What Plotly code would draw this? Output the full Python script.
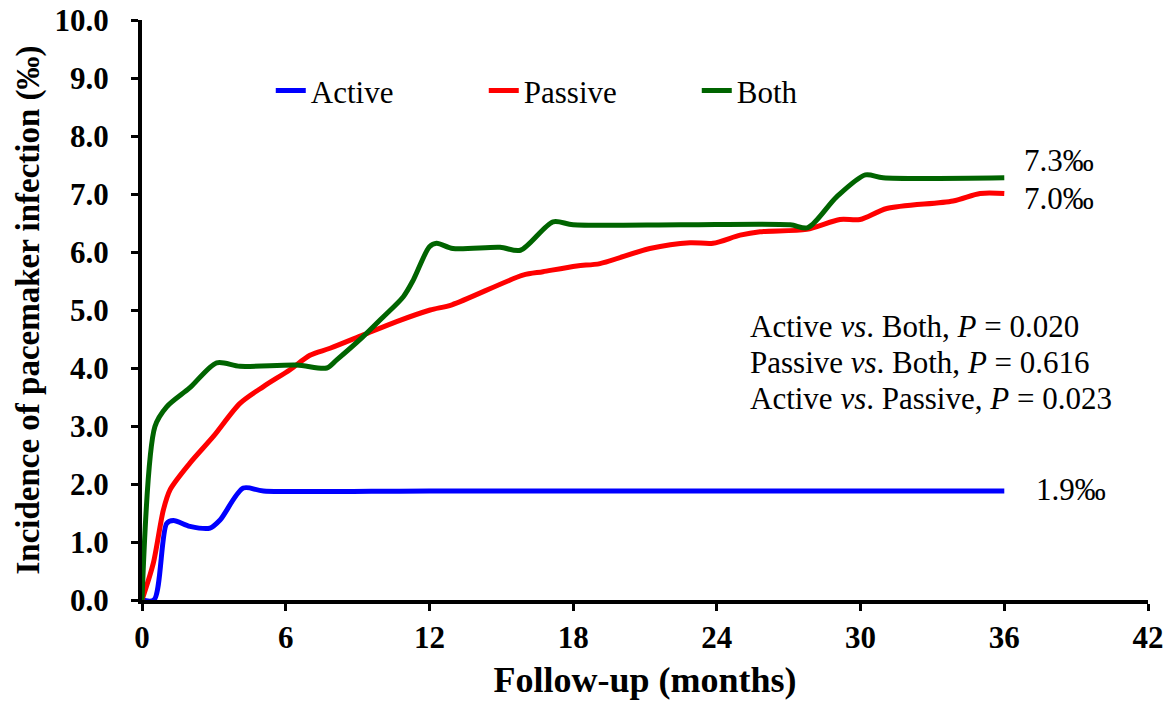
import plotly.graph_objects as go

# Follow-up months and cumulative incidence (‰)
active_x = [0, 0.5, 1.03, 1.31, 2.0, 2.84, 3.26, 4.23, 5.07, 12, 24, 36]
active_y = [0, 0, 1.32, 1.37, 1.27, 1.24, 1.38, 1.93, 1.88, 1.88, 1.88, 1.88]

passive_x = [0, 0.47, 0.89, 1.17, 2.0, 2.98, 4.09, 5.07, 6.18, 7.01, 7.85, 9.24,
             10.63, 12.03, 12.94, 15.9, 16.74, 18.15, 19.12, 21.2, 22.88, 23.84,
             24.97, 25.8, 27.75, 29.14, 29.98, 31.09, 33.86, 34.99, 36]
passive_y = [0, 0.63, 1.55, 1.9, 2.36, 2.82, 3.39, 3.68, 3.97, 4.22, 4.34, 4.57,
             4.8, 5.0, 5.09, 5.6, 5.66, 5.76, 5.8, 6.06, 6.16, 6.15,
             6.29, 6.35, 6.39, 6.56, 6.56, 6.75, 6.88, 7.01, 7.01]

both_x = [0, 0.54, 1.03, 2.0, 3.12, 4.09, 6.46, 7.71, 8.13, 9.23, 10.07, 10.91,
          11.33, 12.0, 12.3, 12.98, 14.95, 15.8, 17.16, 18.0, 22.5, 27.06, 27.8, 29.0,
          30.2, 30.94, 36]
both_y = [0, 2.99, 3.33, 3.66, 4.09, 4.03, 4.05, 4.0, 4.14, 4.54, 4.88, 5.23,
          5.52, 6.09, 6.15, 6.06, 6.08, 6.03, 6.52, 6.47, 6.47, 6.47, 6.42, 6.95,
          7.33, 7.28, 7.28]

series_names = ["Active", "Passive", "Both"]
series_colors = ["#0000FF", "#FF0000", "#006400"]
end_labels = ["1.9‰", "7.0‰", "7.3‰"]
p_text = ["Active <i>vs</i>. Both, <i>P</i> = 0.020",
          "Passive <i>vs</i>. Both, <i>P</i> = 0.616",
          "Active <i>vs</i>. Passive, <i>P</i> = 0.023"]
p_text_y = [4.72, 4.1, 3.47]

x_ticks = [0, 6, 12, 18, 24, 30, 36, 42]

SERIF = "Liberation Serif, Times New Roman, serif"

fig = go.Figure()
for name, xs, ys, col in zip(series_names,
                             [active_x, passive_x, both_x],
                             [active_y, passive_y, both_y],
                             series_colors):
    fig.add_trace(go.Scatter(x=xs, y=ys, mode="lines", name=name,
                             line=dict(color=col, width=5, shape="spline", smoothing=0.8)))

lab_font = dict(family=SERIF, size=31, color="black")
fig.add_annotation(x=36.75, y=7.58, text=end_labels[2], showarrow=False, xanchor="left",
                   yanchor="middle", font=lab_font)
fig.add_annotation(x=36.75, y=6.92, text=end_labels[1], showarrow=False, xanchor="left",
                   yanchor="middle", font=lab_font)
fig.add_annotation(x=37.25, y=1.9, text=end_labels[0], showarrow=False, xanchor="left",
                   yanchor="middle", font=lab_font)

for txt, yy in zip(p_text, p_text_y):
    fig.add_annotation(x=25.3, y=yy, text=txt, showarrow=False,
                       xanchor="left", yanchor="middle", align="left", font=lab_font)

fig.update_layout(
    width=1168, height=713,
    margin=dict(l=142, r=20, t=20, b=113),
    plot_bgcolor="white", paper_bgcolor="white",
    font=dict(family=SERIF, color="black"),
    legend=dict(orientation="h", x=0.128, y=0.878, xanchor="left", yanchor="middle",
                font=dict(family=SERIF, size=31, color="black"),
                entrywidth=168, bgcolor="rgba(0,0,0,0)"),
    xaxis=dict(range=[0, 42], tickvals=x_ticks, showline=True, linecolor="black",
               linewidth=4, ticks="outside", ticklen=7, tickwidth=3, tickcolor="black",
               showgrid=False, zeroline=False, automargin=False,
               tickfont=dict(family=SERIF, size=31, color="black", weight="bold"),
               title=dict(text="<b>Follow-up (months)</b>",
                          font=dict(family=SERIF, size=36, color="black"), standoff=14)),
    yaxis=dict(range=[0, 10], dtick=1, tickformat=".1f", showline=True, linecolor="black",
               linewidth=4, ticks="outside", ticklen=7, tickwidth=3, tickcolor="black",
               showgrid=False, zeroline=False, automargin=False, ticklabelstandoff=16,
               tickfont=dict(family=SERIF, size=31, color="black", weight="bold"),
               title=dict(text="<b>Incidence of pacemaker infection (‰)</b>",
                          font=dict(family=SERIF, size=33, color="black"), standoff=6)),
)

fig.write_html("out.html", config={"displayModeBar": False},
               post_script="document.body.style.margin='0';")
